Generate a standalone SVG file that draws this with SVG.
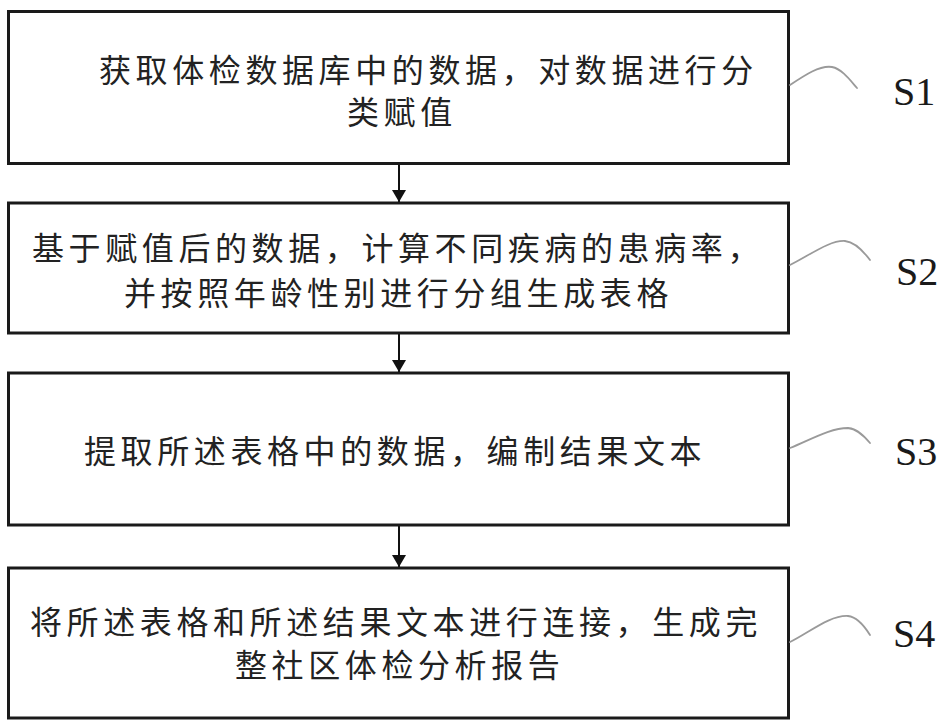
<svg xmlns="http://www.w3.org/2000/svg" width="946" height="726" viewBox="0 0 946 726">
  <style>
    .box { fill: #ffffff; stroke: #1a1a1a; stroke-width: 3; }
    .txt { font-family: "Noto Sans CJK SC", "Noto Sans", sans-serif; font-size: 32px; letter-spacing: 4.6px; fill: #222222; }
    .lbl { font-family: "Liberation Serif", serif; font-size: 40px; fill: #1a1a1a; }
    .sq { fill: none; stroke: #9a9a9a; stroke-width: 1.8; stroke-linecap: round; }
    .conn { stroke: #111111; stroke-width: 2; fill: none; marker-end: url(#arr); }
  </style>
  <defs>
    <marker id="arr" markerUnits="userSpaceOnUse" markerWidth="12" markerHeight="14" refX="12" refY="7" orient="auto" viewBox="0 0 12 14">
      <path d="M0,0 L12,7 L0,14 Z" fill="#111111"/>
    </marker>
  </defs>
  <rect width="946" height="726" fill="#ffffff"/>

  <g id="connectors">
    <line class="conn" x1="399" y1="164" x2="399" y2="202"/>
    <line class="conn" x1="399" y1="334" x2="399" y2="372"/>
    <line class="conn" x1="399" y1="526" x2="399" y2="567"/>
  </g>

  <g id="node-s1">
    <rect class="box" x="8.5" y="11.5" width="780" height="152"/>
    <text class="txt" x="99" y="82">获取体检数据库中的数据，对数据进行分</text>
    <text class="txt" x="347" y="124">类赋值</text>
  </g>
  <g id="node-s2">
    <rect class="box" x="8.5" y="203" width="780" height="130"/>
    <text class="txt" x="32" y="260">基于赋值后的数据，计算不同疾病的患病率，</text>
    <text class="txt" x="124" y="305">并按照年龄性别进行分组生成表格</text>
  </g>
  <g id="node-s3">
    <rect class="box" x="8.5" y="373" width="780" height="152"/>
    <text class="txt" x="84" y="463">提取所述表格中的数据，编制结果文本</text>
  </g>
  <g id="node-s4">
    <rect class="box" x="8.5" y="568" width="780" height="150"/>
    <text class="txt" x="30" y="634">将所述表格和所述结果文本进行连接，生成完</text>
    <text class="txt" x="235" y="677">整社区体检分析报告</text>
  </g>

  <g id="labels">
    <path class="sq" d="M790,85 C805,75 820,65 832,67 C842,69 850,80 857,88"/>
    <text class="lbl" x="893" y="105">S1</text>
    <path class="sq" d="M790,265 C810,255 830,240 845,241 C855,242 864,252 870,260"/>
    <text class="lbl" x="896" y="285">S2</text>
    <path class="sq" d="M790,448 C810,440 830,428 848,428 C858,429 865,437 870,443"/>
    <text class="lbl" x="895" y="465">S3</text>
    <path class="sq" d="M790,642 C810,632 830,615 848,616 C858,617 865,627 870,635"/>
    <text class="lbl" x="893" y="647">S4</text>
  </g>
</svg>
